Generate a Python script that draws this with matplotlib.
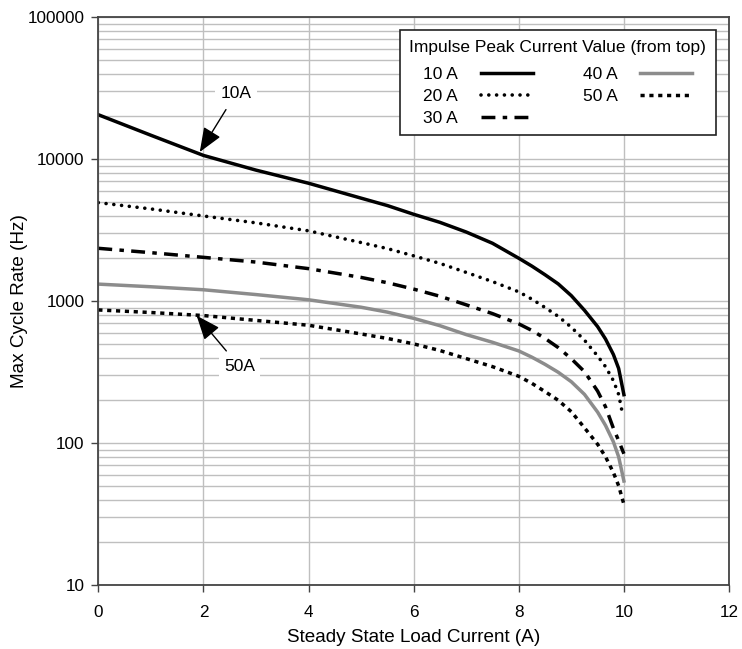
import matplotlib
matplotlib.use("Agg")
import matplotlib.pyplot as plt
from matplotlib.ticker import LogLocator, NullFormatter, FixedLocator

plt.rcParams['font.family'] = ['Liberation Sans', 'DejaVu Sans']

# Data
x_vals = [0, 1, 2, 3, 4, 5, 5.5, 6, 6.5, 7, 7.5, 8, 8.25, 8.5, 8.75, 9, 9.25, 9.5, 9.65, 9.8, 9.9, 10]
x_vals20 = [0, 1, 2, 3, 4, 5, 5.5, 6, 6.5, 7, 7.5, 8, 8.25, 8.5, 8.75, 9, 9.25, 9.5, 9.65, 9.8, 9.9, 9.97]
s10 = [20500, 14700, 10600, 8350, 6750, 5300, 4700, 4080, 3580, 3060, 2550, 2000, 1760, 1530, 1320, 1090, 860, 660, 540, 420, 335, 219]
s20 = [4930, 4450, 3970, 3550, 3120, 2580, 2340, 2080, 1840, 1590, 1370, 1160, 1030, 900, 780, 653, 530, 410, 345, 275, 220, 163]
s30 = [2350, 2190, 2030, 1880, 1690, 1466, 1345, 1213, 1080, 940, 815, 690, 620, 545, 470, 392, 318, 232, 180, 127, 104, 84]
s40 = [1315, 1260, 1200, 1110, 1020, 904, 835, 755, 670, 580, 512, 445, 402, 358, 315, 270, 220, 165, 133, 102, 80, 54]
s50 = [865, 830, 790, 730, 675, 586, 545, 499, 448, 393, 345, 295, 263, 230, 200, 166, 128, 98, 80, 62, 50, 37]
labels = ['10 A', '20 A', '30 A', '40 A', '50 A']
x_ticks = [0, 2, 4, 6, 8, 10, 12]
y_ticks = [10, 100, 1000, 10000, 100000]
y_ticklabels = ['10', '100', '1000', '10000', '100000']

fig = plt.figure(figsize=(7.42, 6.49), dpi=100)
ax = fig.add_axes([0.1325, 0.0986, 0.8500, 0.8752])

ax.plot(x_vals, s10, color='black', lw=2.5, label=labels[0])
ax.plot(x_vals20, s20, color='black', lw=2.6, linestyle=(0, (0.01, 2.15)), dash_capstyle='round', label=labels[1])
ax.plot(x_vals, s30, color='black', lw=2.5, linestyle=(0, (4.0, 2.1, 1.3, 2.1)), label=labels[2])
ax.plot(x_vals, s40, color='#8c8c8c', lw=2.5, label=labels[3])
ax.plot(x_vals, s50, color='black', lw=2.5, linestyle=(0, (1.2, 1.35)), label=labels[4])

ax.set_yscale('log')
ax.set_xlim(0, 12)
ax.set_ylim(10, 100000)
ax.xaxis.set_major_locator(FixedLocator(x_ticks))
ax.yaxis.set_major_locator(FixedLocator(y_ticks))
ax.set_yticklabels(y_ticklabels)
ax.yaxis.set_minor_locator(LogLocator(base=10, subs=range(2, 10)))
ax.yaxis.set_minor_formatter(NullFormatter())
ax.tick_params(axis='both', which='major', direction='out', length=5, width=1, colors='#444444',
               labelcolor='black', labelsize=12.3)
ax.tick_params(axis='x', which='major', pad=9.5)
ax.tick_params(axis='y', which='major', pad=4.8)
ax.tick_params(axis='y', which='minor', length=0)
ax.grid(True, which='major', color='#bfbfbf', lw=1)
ax.grid(True, which='minor', axis='y', color='#bfbfbf', lw=1)
ax.set_axisbelow(True)
for sp in ax.spines.values():
    sp.set_color('#444444')
    sp.set_linewidth(1.3)

ax.set_xlabel('Steady State Load Current (A)', fontsize=13.6, labelpad=6.5)
ax.set_ylabel('Max Cycle Rate (Hz)', fontsize=13.6, labelpad=-0.5)

leg = ax.legend(ncol=2, title='Impulse Peak Current Value (from top)', loc='upper right',
                bbox_to_anchor=(0.979, 0.977), borderaxespad=0, markerfirst=False, frameon=True,
                fancybox=False, edgecolor='#222222', fontsize=12.5, title_fontsize=12.5,
                handlelength=3.0, handletextpad=1.3, columnspacing=2.9, labelspacing=0.38,
                borderpad=0.55, framealpha=1)
leg.get_frame().set_linewidth(1.2)
leg._legend_box.sep = 9

arrowprops = dict(arrowstyle='-|>,head_length=1.25,head_width=0.5', color='black', lw=1.0,
                  shrinkA=3, shrinkB=0, mutation_scale=12)
ax.annotate('10A', xy=(1.93, 11200), xytext=(2.62, 29000), fontsize=12.5, ha='center', va='center',
            bbox=dict(boxstyle='square,pad=0.3', fc='white', ec='none'), arrowprops=arrowprops)
ax.annotate('50A', xy=(1.87, 789), xytext=(2.69, 344), fontsize=12.5, ha='center', va='center',
            bbox=dict(boxstyle='square,pad=0.3', fc='white', ec='none'), arrowprops=arrowprops)

fig.savefig('out.png', dpi=100)
